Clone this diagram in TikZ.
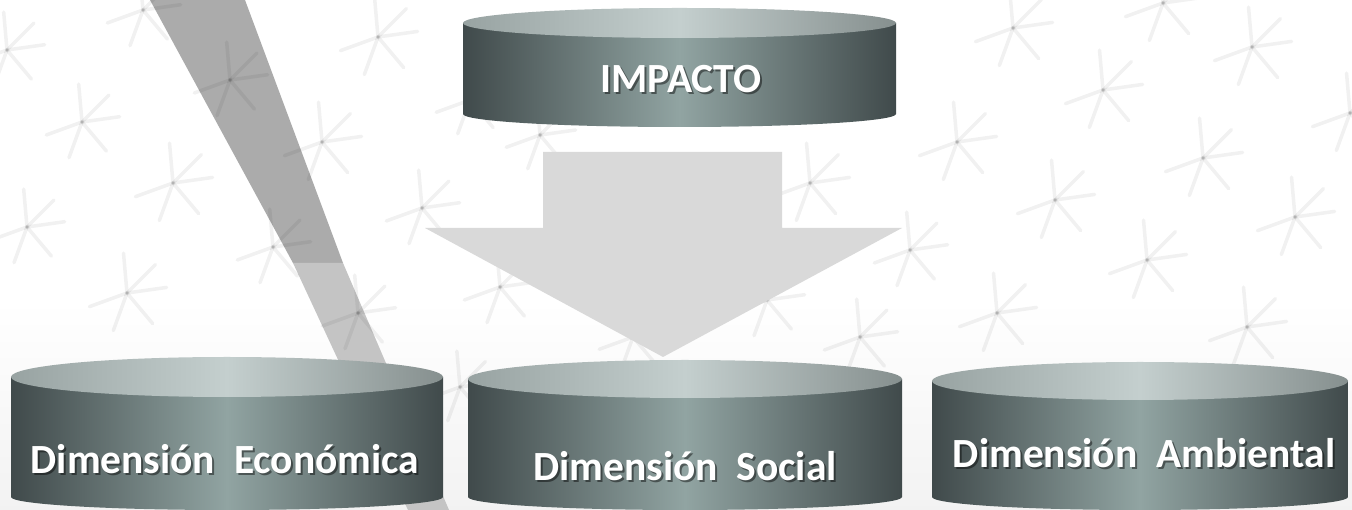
\documentclass[tikz,border=0pt]{standalone}
\usepackage{fontspec}
\setmainfont{Carlito}
\usepackage{tikz}

\definecolor{drumdark}{HTML}{404A4B}
\definecolor{drumlight}{HTML}{91A4A2}
\definecolor{lidside}{HTML}{98A3A2}
\definecolor{lidmid}{HTML}{C4CFCE}
\definecolor{arrowgray}{HTML}{D9D9D9}
\definecolor{bandtop}{HTML}{ABABAB}
\definecolor{bandlow}{HTML}{C4C4C4}

\tikzset{
  drumbody/.style={left color=drumdark, right color=drumdark, middle color=drumlight},
  drumlid/.style={left color=lidside, right color=lidside!88!black, middle color=lidmid},
  dimtext/.style={anchor=base, text=white, font=\bfseries\fontsize{11.8}{14}\selectfont},
  dimshadow/.style={dimtext, text=black, text opacity=0.45},
  starline/.style={draw=black, draw opacity=0.055, line width=1pt, line cap=round}
}

% drum: centre x, half width, lid y, lid radius, foot y, foot radius
\newcommand{\drum}[6]{%
  \shade[drumbody] (#1-#2,#3) -- (#1-#2,#5) arc[start angle=180, end angle=0, x radius=#2, y radius=#6] -- (#1+#2,#3) -- cycle;
  \shade[drumlid] (#1,#3) ellipse[x radius=#2, y radius=#4];
}

\begin{document}
\begin{tikzpicture}[x=0.01cm, y=-0.01cm]
    \useasboundingbox (0,0) rectangle (1352,510);
    % backdrop
    \fill[white] (0,0) rectangle (1352,510);
    \shade[top color=white, bottom color=black!5] (0,300) rectangle (1352,510);
    % band
    \fill[bandtop] (150,0) -- (245,0) -- (343,263) -- (293,263) -- cycle;
    \fill[bandlow] (293,263) -- (343,263) -- (449,510) -- (408,510) -- cycle;
    % stars
    \foreach \sx/\sy/\sr in {7/50/38, 143/10/38, 230/80/38, 378/37/40, 82/122/38,
        322/142/40, 173/183/40, 27/227/38, 422/208/38, 273/247/38, 127/293/40,
        358/313/38, 470/100/36, 540/135/36, 810/183/40, 500/287/38, 633/337/36,
        767/300/38, 860/337/38, 910/250/38, 460/387/36, 1013/28/40, 1163/3/40,
        1103/90/40, 1252/47/40, 957/142/40, 1055/200/40, 1203/158/40, 1350/113/40,
        1147/260/40, 1295/217/40, 997/313/40, 1247/327/40} {
        \foreach \a in {-95,-45,-8,160,110,50}
            \draw[starline] (\sx,\sy) -- ++(\a:\sr);
    }
    % arrow
    \fill[arrowgray] (543,152) -- (782,152) -- (782,228) -- (902,228)
        -- (663,357) -- (425,228) -- (543,228) -- cycle;
    % drums
    \drum{679.5}{216.5}{23}{15}{114}{13}
    \drum{227}{216}{377}{20}{497}{13}
    \drum{685}{217}{379}{19}{497}{13}
    \drum{1140}{208}{381}{19}{497}{13}
    % labels
    \node[dimshadow] (impacto-s) at (683,95) {IMPACTO};
    \node[dimtext] (impacto) at (681,93) {IMPACTO};
    \node[dimshadow] (econ-s) at (227,476) {Dimensión~~Económica};
    \node[dimtext] (econ) at (225,474) {Dimensión~~Económica};
    \node[dimshadow] (social-s) at (687,483) {Dimensión~~Social};
    \node[dimtext] (social) at (685,481) {Dimensión~~Social};
    \node[dimshadow] (amb-s) at (1146,470) {Dimensión~~Ambiental};
    \node[dimtext] (amb) at (1144,468) {Dimensión~~Ambiental};
\end{tikzpicture}
\end{document}
